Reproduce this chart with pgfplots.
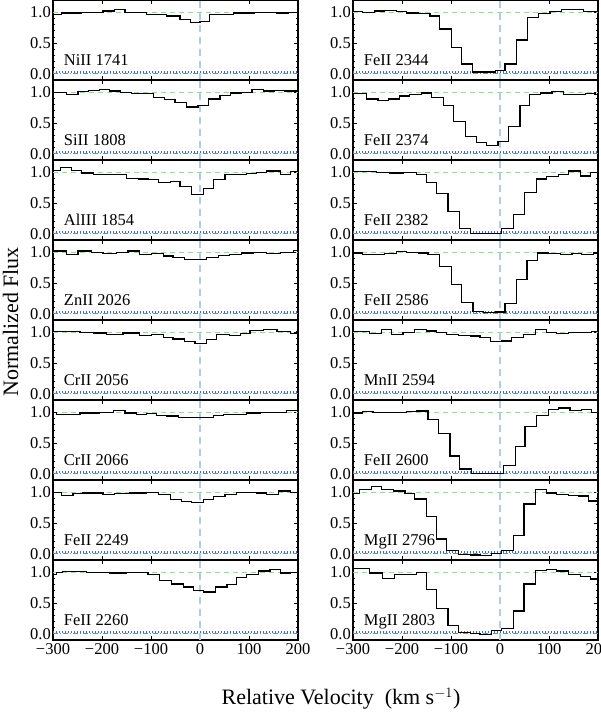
\documentclass[border=0pt]{standalone}
\usepackage{fontspec}
\setmainfont{Liberation Serif}
\usepackage{pgfplots}
\pgfplotsset{compat=1.18}

\definecolor{cgreen}{RGB}{160,210,160}
\definecolor{cblue}{RGB}{30,115,215}
\definecolor{cred}{RGB}{235,95,85}
\definecolor{cvl}{RGB}{175,205,230}

\newcommand{\tickf}{\fontsize{16.5}{18}\selectfont}
\newcommand{\labf}{\fontsize{22}{24}\selectfont}

\pgfplotsset{
  panel/.style={
    scale only axis, width=245pt, height=80pt, anchor=south west,
    xmin=-300, xmax=200, ymin=-0.1, ymax=1.2,
    /pgf/number format/assume math mode=true,
    xtick={-300,-200,...,200}, xticklabels={},
    ytick={0,0.5,1},
    yticklabel={\tickf\pgfmathprintnumber[fixed,fixed zerofill,precision=1]{\tick}},
    minor y tick num=4,
    tick align=inside, major tick length=4pt, minor tick length=2pt,
    axis line style={line width=1.4pt},
    tick style={line width=0.8pt, black},
    yticklabel style={inner xsep=2pt},
  },
  bottom/.style={xticklabels={{\tickf −300},{\tickf −200},{\tickf −100},{\tickf 0},{\tickf 100},{\tickf 200}}},
  gline/.style={cgreen, line width=0.9pt, dash pattern=on 5pt off 4pt},
  rline/.style={cred, line width=1pt, dash pattern=on 5pt off 2pt on 1pt off 2pt},
  bline/.style={cblue, line width=1.3pt, dash pattern=on 1.2pt off 1.8pt},
  vline/.style={cvl, line width=1.4pt, dash pattern=on 7pt off 5pt},
  spec/.style={black, line width=1.2pt, const plot, mark=none},
}

% #1 x, #2 y, #3 label, #4 data, #5 extra options
\newcommand{\panel}[5]{%
\begin{axis}[panel, at={(#1pt,#2pt)}, #5]
\addplot[gline] coordinates {(-300,1) (200,1)};
\addplot[rline] coordinates {(-300,0) (200,0)};
\addplot[bline] coordinates {(-300,0.03) (200,0.03)};
\addplot[vline] coordinates {(0,-0.1) (0,1.2)};
\addplot[spec] coordinates {#4};
\node[anchor=base west, font=\tickf, inner sep=0pt] at (axis cs:-278,0.14) {#3};
\end{axis}}

\begin{document}
\begin{tikzpicture}
% left column
\panel{53}{640}{NiII 1741}{(-300,0.96) (-283,0.99) (-262,0.99) (-242,1.0) (-220,1.0) (-198,1.02) (-174,1.04) (-153,1.0) (-131,1.0) (-109,0.97) (-88,0.97) (-68,0.94) (-41,0.88) (-20,0.83) (0,0.85) (20,0.96) (44,0.97) (68,0.99) (90,0.99) (112,1.0) (135,1.0) (157,0.99) (180,1.0) (200,1.0)}{}
\panel{53}{560}{SiII 1808}{(-300,1.0) (-273,0.97) (-249,1.01) (-227,1.03) (-205,1.05) (-184,1.02) (-162,1.0) (-140,0.98) (-118,0.98) (-95,0.92) (-73,0.88) (-51,0.84) (-27,0.76) (-4,0.79) (17,0.89) (41,0.95) (63,0.99) (85,1.0) (106,1.05) (129,1.02) (151,1.03) (173,1.02) (200,1.02)}{}
\panel{53}{480}{AlIII 1854}{(-300,1.03) (-284,1.08) (-262,1.03) (-242,0.99) (-218,0.97) (-194,0.96) (-174,0.96) (-150,0.90) (-126,0.89) (-106,0.88) (-85,0.84) (-61,0.85) (-41,0.77) (-17,0.64) (7,0.74) (27,0.88) (51,0.96) (75,0.97) (95,0.98) (116,1.0) (136,1.02) (164,0.96) (184,1.01) (200,1.01)}{}
\panel{53}{400}{ZnII 2026}{(-300,1.02) (-273,0.96) (-249,1.02) (-222,1.0) (-198,0.98) (-170,1.0) (-147,1.02) (-123,0.97) (-99,0.98) (-75,0.94) (-55,0.91) (-31,0.88) (-7,0.88) (14,0.92) (37,0.95) (61,0.97) (85,0.99) (109,1.0) (136,0.98) (164,1.0) (191,1.03) (200,1.03)}{}
\panel{53}{320}{CrII 2056}{(-300,1.01) (-245,1.0) (-218,0.99) (-191,0.97) (-157,0.99) (-123,0.95) (-99,0.96) (-75,0.92) (-55,0.89) (-31,0.85) (-10,0.82) (14,0.88) (34,0.96) (61,0.95) (82,0.98) (102,1.03) (129,1.04) (157,1.01) (184,0.98) (198,1.01) (200,1.01)}{}
\panel{53}{240}{CrII 2066}{(-300,1.0) (-293,0.96) (-245,0.99) (-205,1.0) (-177,1.03) (-153,0.99) (-130,0.97) (-109,0.98) (-89,0.95) (-68,0.94) (-44,0.92) (-20,0.91) (0,0.92) (27,0.95) (48,0.97) (68,0.96) (95,0.99) (123,1.0) (150,1.0) (177,1.03) (200,1.03)}{}
\panel{53}{160}{FeII 2249}{(-300,1.0) (-283,0.95) (-259,0.98) (-239,0.99) (-198,0.97) (-174,0.98) (-143,0.99) (-109,1.0) (-85,0.96) (-61,0.88) (-38,0.85) (-17,0.83) (7,0.88) (27,0.93) (51,0.96) (75,1.0) (95,1.0) (116,0.99) (136,0.96) (160,1.02) (184,1.0) (200,1.0)}{}
\panel{53}{80}{FeII 2260}{(-300,0.96) (-293,1.0) (-280,1.01) (-232,1.0) (-184,0.99) (-150,1.0) (-106,0.97) (-82,0.87) (-58,0.81) (-34,0.76) (-14,0.71) (7,0.68) (31,0.76) (55,0.80) (75,0.91) (95,0.97) (119,1.02) (143,1.04) (164,0.99) (184,1.0) (200,1.0)}{bottom}
% right column
\panel{353}{640}{FeII 2344}{(-300,1.01) (-280,1.0) (-256,1.02) (-235,1.03) (-211,1.01) (-191,0.99) (-167,0.98) (-143,0.94) (-123,0.73) (-99,0.43) (-78,0.16) (-56,0.03) (-33,0.03) (-10,0.05) (10,0.16) (34,0.55) (56,0.92) (78,0.98) (102,1.01) (126,1.04) (146,1.05) (170,1.01) (200,1.01)}{}
\panel{353}{560}{FeII 2374}{(-300,0.98) (-273,0.89) (-249,0.87) (-228,0.89) (-205,0.94) (-184,0.97) (-160,0.99) (-140,0.92) (-116,0.79) (-95,0.53) (-70,0.28) (-48,0.18) (-27,0.14) (-4,0.20) (17,0.45) (41,0.79) (61,0.96) (82,0.99) (106,1.01) (129,0.97) (153,0.97) (174,0.98) (194,0.96) (200,0.96)}{}
\panel{353}{480}{FeII 2382}{(-300,1.01) (-252,1.0) (-225,0.99) (-198,1.0) (-170,0.97) (-150,0.84) (-130,0.65) (-106,0.36) (-83,0.09) (-61,0.01) (-38,0.01) (-17,0.0) (3,0.09) (27,0.32) (50,0.67) (74,0.89) (95,0.93) (119,0.96) (140,1.02) (164,0.94) (184,1.0) (200,1.0)}{}
\panel{353}{400}{FeII 2586}{(-300,0.99) (-280,0.96) (-256,0.96) (-235,0.98) (-211,1.01) (-191,1.0) (-167,0.99) (-147,0.96) (-123,0.77) (-99,0.48) (-78,0.18) (-55,0.04) (-34,0.02) (-10,0.03) (10,0.17) (34,0.56) (55,0.87) (76,0.99) (99,0.98) (123,0.97) (147,0.98) (167,0.96) (191,0.99) (200,0.99)}{}
\panel{353}{320}{MnII 2594}{(-300,1.01) (-266,0.98) (-242,1.04) (-222,0.97) (-198,1.0) (-174,1.04) (-150,1.02) (-130,1.0) (-109,0.97) (-85,0.95) (-61,0.94) (-41,0.92) (-20,0.85) (3,0.86) (24,0.92) (48,0.97) (72,1.05) (95,1.0) (116,0.98) (140,1.0) (164,1.0) (187,1.01) (200,1.01)}{}
\panel{353}{240}{FeII 2600}{(-300,0.99) (-280,1.01) (-259,1.0) (-191,1.01) (-170,1.02) (-147,0.88) (-126,0.65) (-102,0.29) (-82,0.08) (-58,0.01) (-34,0.01) (-14,0.0) (7,0.13) (31,0.44) (51,0.77) (75,0.95) (99,1.04) (119,1.07) (143,1.03) (167,1.04) (187,1.0) (200,1.0)}{}
\panel{353}{160}{MgII 2796}{(-300,0.98) (-286,1.04) (-262,1.09) (-242,1.04) (-218,1.02) (-194,0.98) (-174,0.89) (-150,0.61) (-130,0.24) (-109,0.06) (-85,-0.01) (-61,-0.02) (-41,-0.03) (-17,0.0) (3,0.05) (27,0.30) (49,0.81) (72,1.04) (95,0.99) (116,0.96) (140,0.95) (160,0.94) (181,0.86) (200,0.86)}{}
\panel{353}{80}{MgII 2803}{(-300,1.06) (-266,0.99) (-239,0.90) (-215,0.96) (-191,0.97) (-170,1.0) (-150,0.72) (-130,0.41) (-106,0.13) (-85,0.02) (-61,0.0) (-41,-0.01) (-17,0.05) (3,0.09) (27,0.37) (49,0.81) (72,1.03) (95,1.05) (116,1.02) (140,0.97) (164,0.93) (184,0.89) (200,0.89)}{bottom}
% axis titles
\node[rotate=90, anchor=base, font=\labf] at (18pt,398pt) {Normalized Flux};
\node[anchor=base, font=\labf] at (341pt,15pt) {Relative Velocity\ \ (km s$^{-1}$)};
\pgfresetboundingbox
\path[use as bounding box] (0pt,0pt) rectangle (600pt,720pt);
\end{tikzpicture}
\end{document}
